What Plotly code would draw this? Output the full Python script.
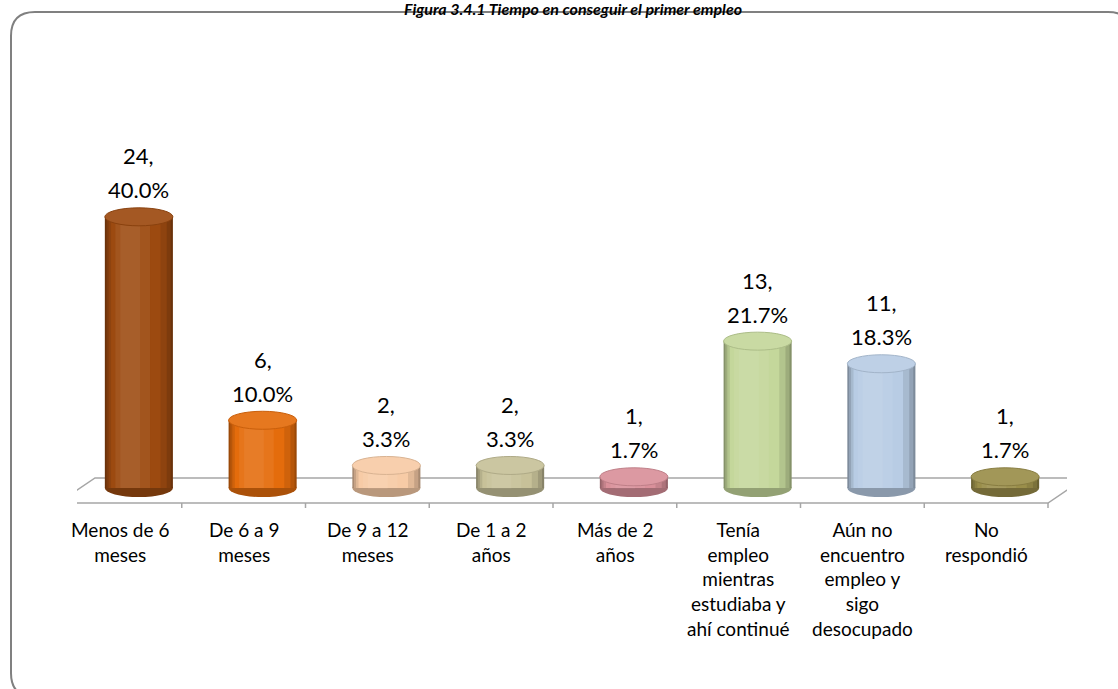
import plotly.graph_objects as go

# ---------------- data ----------------
categories = [
    "Menos de 6<br>meses",
    "De 6 a 9<br>meses",
    "De 9 a 12<br>meses",
    "De 1 a 2<br>años",
    "Más de 2<br>años",
    "Tenía<br>empleo<br>mientras<br>estudiaba y<br>ahí continué",
    "Aún no<br>encuentro<br>empleo y<br>sigo<br>desocupado",
    "No<br>respondió",
]
counts = [24, 6, 2, 2, 1, 13, 11, 1]
percents = [40.0, 10.0, 3.3, 3.3, 1.7, 21.7, 18.3, 1.7]
colors = ["#9C4A10", "#E46C0C", "#F7CBA6", "#C7C199", "#D9909A",
          "#C4D79B", "#B8CCE4", "#9A8E4A"]
title = "Figura 3.4.1 Tiempo en conseguir el primer empleo"

# ---------------- layout geometry ----------------
W, H = 1118, 689
ML, MR, MT, MB = 77, 51, 149, 167
PW, PH = W - ML - MR, H - MT - MB
YMIN, YMAX = -3, 30
n = len(categories)
xpx_per = PW / n
ypx_per = PH / (YMAX - YMIN)


def xd(px):
    return (px - ML) / xpx_per - 0.5


def yd(py):
    return YMAX - (py - MT) / ypx_per


def px_paper(px):
    return (px - ML) / PW


def py_paper(py):
    return (H - MB - py) / PH


def mix(c, t, f):
    c = c.lstrip("#")
    r, g, b = int(c[0:2], 16), int(c[2:4], 16), int(c[4:6], 16)
    r = round(r + (t[0] - r) * f)
    g = round(g + (t[1] - g) * f)
    b = round(b + (t[2] - b) * f)
    return f"rgb({r},{g},{b})"


def dark(c, f):
    return mix(c, (0, 0, 0), f)


def light(c, f):
    return mix(c, (255, 255, 255), f)


x = list(range(n))
fig = go.Figure()

# cylinder shading via overlaid bars
BW = 0.55
layers = [
    (BW, -BW / 2, lambda c: dark(c, 0.32)),
    (0.52, -0.262, lambda c: dark(c, 0.20)),
    (0.47, -0.245, lambda c: dark(c, 0.09)),
    (0.40, -0.225, lambda c: c),
    (0.28, -0.19, lambda c: light(c, 0.06)),
    (0.16, -0.15, lambda c: light(c, 0.11)),
]
for w, off, fn in layers:
    fig.add_trace(go.Bar(
        x=x, y=counts, base=0, width=w, offset=off,
        marker=dict(color=[fn(c) for c in colors], line=dict(width=0)),
        hoverinfo="skip", showlegend=False,
    ))

shapes = []
# floor (perspective plane)
f_front, f_back = yd(503), yd(478)
fl_front, fl_back = xd(58), xd(95)
fr_front, fr_back = xd(1048), xd(1085)
shapes.append(dict(
    type="path", xref="x", yref="y", layer="below",
    path=f"M {fl_front},{f_front} L {fr_front},{f_front} L {fr_back},{f_back} L {fl_back},{f_back} Z",
    line=dict(color="#A6A6A6", width=1.5), fillcolor="rgba(0,0,0,0)",
))
for k in range(n + 1):
    xk = fl_front + k
    shapes.append(dict(type="line", xref="x", yref="y", layer="below",
                       x0=xk, x1=xk, y0=f_front, y1=f_front - 5 / ypx_per,
                       line=dict(color="#A6A6A6", width=1.5)))

# bottom and top caps of cylinders
cap = 9 / ypx_per
for i, (v, c) in enumerate(zip(counts, colors)):
    shapes.append(dict(type="circle", xref="x", yref="y", layer="below",
                       x0=i - BW / 2, x1=i + BW / 2, y0=-cap, y1=cap,
                       fillcolor=dark(c, 0.25), line=dict(width=0)))
    shapes.append(dict(type="circle", xref="x", yref="y", layer="above",
                       x0=i - BW / 2, x1=i + BW / 2, y0=v - cap, y1=v + cap,
                       fillcolor=light(c, 0.08),
                       line=dict(color=dark(c, 0.12), width=1)))

# rounded outer border
bx0, by0, bx1, by1, r = 11, 12, 1132, 697, 24
pts = [
    ("M", [(bx0 + r, by0)]), ("L", [(bx1 - r, by0)]),
    ("Q", [(bx1, by0), (bx1, by0 + r)]), ("L", [(bx1, by1 - r)]),
    ("Q", [(bx1, by1), (bx1 - r, by1)]), ("L", [(bx0 + r, by1)]),
    ("Q", [(bx0, by1), (bx0, by1 - r)]), ("L", [(bx0, by0 + r)]),
    ("Q", [(bx0, by0), (bx0 + r, by0)]),
]
path = " ".join(
    cmd + " " + " ".join(f"{px_paper(a):.5f},{py_paper(b):.5f}" for a, b in p)
    for cmd, p in pts) + " Z"
shapes.append(dict(type="path", xref="paper", yref="paper", layer="below",
                   path=path, line=dict(color="#808080", width=2)))

annotations = []
lab_font = dict(family="Lato, 'Open Sans', sans-serif", size=22, color="#000000")
for i, (cnt, pct) in enumerate(zip(counts, percents)):
    annotations.append(dict(x=i, y=cnt, xref="x", yref="y", text=f"{cnt},",
                            showarrow=False, yshift=61, font=lab_font))
    annotations.append(dict(x=i, y=cnt, xref="x", yref="y", text=f"{pct:.1f}%",
                            showarrow=False, yshift=27, font=lab_font))

cat_font = dict(family="Lato, 'Open Sans', sans-serif", size=19, color="#000000")
for i, cat in enumerate(categories):
    annotations.append(dict(x=i + fl_front + 0.5, y=f_front, xref="x", yref="y",
                            text=cat, showarrow=False, yanchor="top",
                            yshift=-13, font=cat_font, align="center"))

annotations.append(dict(x=px_paper(573), y=py_paper(-3), xref="paper", yref="paper",
                        text=f"<b><i>{title}</i></b>", showarrow=False,
                        yanchor="top",
                        font=dict(family="Lato, 'Open Sans', sans-serif", size=16,
                                  color="#000000")))

fig.update_layout(
    width=W, height=H,
    margin=dict(l=ML, r=MR, t=MT, b=MB),
    paper_bgcolor="white", plot_bgcolor="white",
    barmode="overlay",
    xaxis=dict(range=[-0.5, n - 0.5], visible=False, fixedrange=True),
    yaxis=dict(range=[YMIN, YMAX], visible=False, fixedrange=True),
    shapes=shapes, annotations=annotations, showlegend=False,
)

fig.write_html(
    "out.html",
    config={"displayModeBar": False},
    post_script="document.body.style.margin='0';document.body.style.padding='0';",
)
